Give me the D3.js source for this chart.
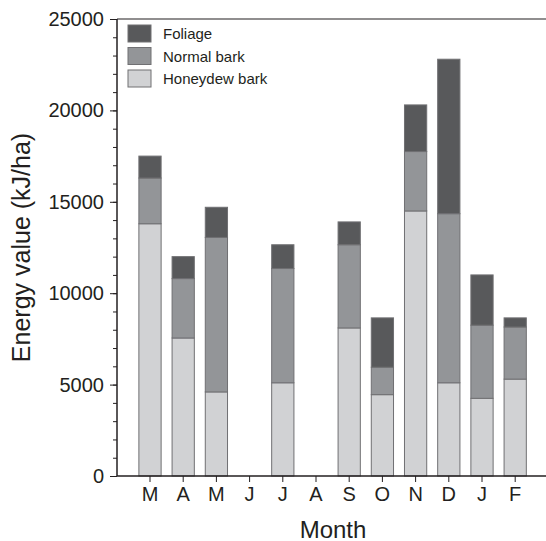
<!DOCTYPE html>
<html>
<head>
<meta charset="utf-8">
<script src="https://cdn.jsdelivr.net/npm/d3@7"></script>
<style>
  body { margin: 0; background: #fff; }
  text { font-family: "Liberation Sans", Arial, sans-serif; fill: #231f20; }
</style>
</head>
<body>
<div id="chart"></div>
<script>
// months, March to February
const months = ['M', 'A', 'M', 'J', 'J', 'A', 'S', 'O', 'N', 'D', 'J', 'F']
const honeydew = [13800, 7550, 4600, 0, 5100, 0, 8100, 4450, 14500, 5100, 4250, 5300]
const normalBark = [2500, 3250, 8450, 0, 6250, 0, 4550, 1500, 3250, 9250, 4000, 2850]
const foliage = [1200, 1200, 1650, 0, 1300, 0, 1250, 2700, 2550, 8450, 2750, 500]
const seriesNames = ['Foliage', 'Normal bark', 'Honeydew bark']
const yTicks = [0, 5000, 10000, 15000, 20000, 25000]

const width = 546
const height = 541
const colors = {'Honeydew bark': '#d1d2d4', 'Normal bark': '#939598', 'Foliage': '#58595b'}

const rows = months.map((m, i) => ({
    key: i,
    'Honeydew bark': honeydew[i],
    'Normal bark': normalBark[i],
    'Foliage': foliage[i]
}))

const stack = d3.stack().keys(['Honeydew bark', 'Normal bark', 'Foliage'])
const layers = stack(rows)

const x = d3.scaleBand()
    .domain(d3.range(months.length))
    .range([133.4, 531.8])
    .paddingInner(0.33)
    .paddingOuter(0.165)

const y = d3.scaleLinear()
    .domain([0, 25000])
    .range([476, 19])

const svg = d3.select('#chart').append('svg')
    .attr('width', width)
    .attr('height', height)

// bars
svg.append('g')
  .selectAll('g')
  .data(layers)
  .enter().append('g')
    .attr('fill', d => colors[d.key])
  .selectAll('rect')
  .data(d => d.filter(p => p[1] > p[0]))
  .enter().append('rect')
    .attr('x', d => x(d.data.key))
    .attr('y', d => y(d[1]))
    .attr('width', x.bandwidth())
    .attr('height', d => y(d[0]) - y(d[1]))
    .attr('stroke', '#707073')
    .attr('stroke-width', 1)

// y axis with minor ticks
const yAxis = svg.append('g')
    .attr('transform', 'translate(117,0)')

yAxis.call(d3.axisLeft(y).tickValues(d3.range(0, 25001, 1000)).tickSize(4).tickFormat(''))
yAxis.select('.domain').remove()

const yMajor = svg.append('g')
    .attr('transform', 'translate(117,0)')
    .call(d3.axisLeft(y).tickValues(yTicks).tickSize(7).tickPadding(6).tickFormat(d3.format('d')))
yMajor.selectAll('text')
    .attr('font-size', 20)
    .attr('fill', '#231f20')
yMajor.selectAll('line').attr('stroke', '#231f20')
yAxis.selectAll('line').attr('stroke', '#231f20')
yMajor.select('.domain').remove()

svg.append('line')
    .attr('x1', 117).attr('x2', 117)
    .attr('y1', y(0)).attr('y2', y(25000))
    .attr('stroke', '#231f20').attr('stroke-width', 1.5)

// top frame line
svg.append('line')
    .attr('x1', 117).attr('x2', width)
    .attr('y1', y(25000)).attr('y2', y(25000))
    .attr('stroke', '#231f20').attr('stroke-width', 1.2)

// x axis
const xAxis = svg.append('g')
    .attr('transform', `translate(0,${y(0)})`)
    .call(d3.axisBottom(x).tickSize(6).tickPadding(5).tickFormat(i => months[i]))
xAxis.select('.domain').remove()
xAxis.selectAll('text').attr('font-size', 20).attr('fill', '#231f20')
xAxis.selectAll('line').attr('stroke', '#231f20')

svg.append('line')
    .attr('x1', 117).attr('x2', width)
    .attr('y1', y(0)).attr('y2', y(0))
    .attr('stroke', '#231f20').attr('stroke-width', 1.5)

// axis titles
svg.append('text')
    .attr('transform', `translate(30,${(y(0) + y(25000)) / 2}) rotate(-90)`)
    .attr('text-anchor', 'middle')
    .attr('font-size', 25)
    .text('Energy value (kJ/ha)')

svg.append('text')
    .attr('x', 333)
    .attr('y', 538)
    .attr('text-anchor', 'middle')
    .attr('font-size', 24)
    .text('Month')

// legend
const legend = svg.append('g')
    .attr('transform', 'translate(128,25)')

const item = legend.selectAll('g')
    .data(seriesNames)
    .enter().append('g')
    .attr('transform', (d, i) => `translate(0,${i * 22.5})`)

item.append('rect')
    .attr('width', 23)
    .attr('height', 17)
    .attr('fill', d => colors[d])
    .attr('stroke', '#707073')

item.append('text')
    .attr('x', 35)
    .attr('y', 14)
    .attr('font-size', 15)
    .text(d => d)
</script>
</body>
</html>
